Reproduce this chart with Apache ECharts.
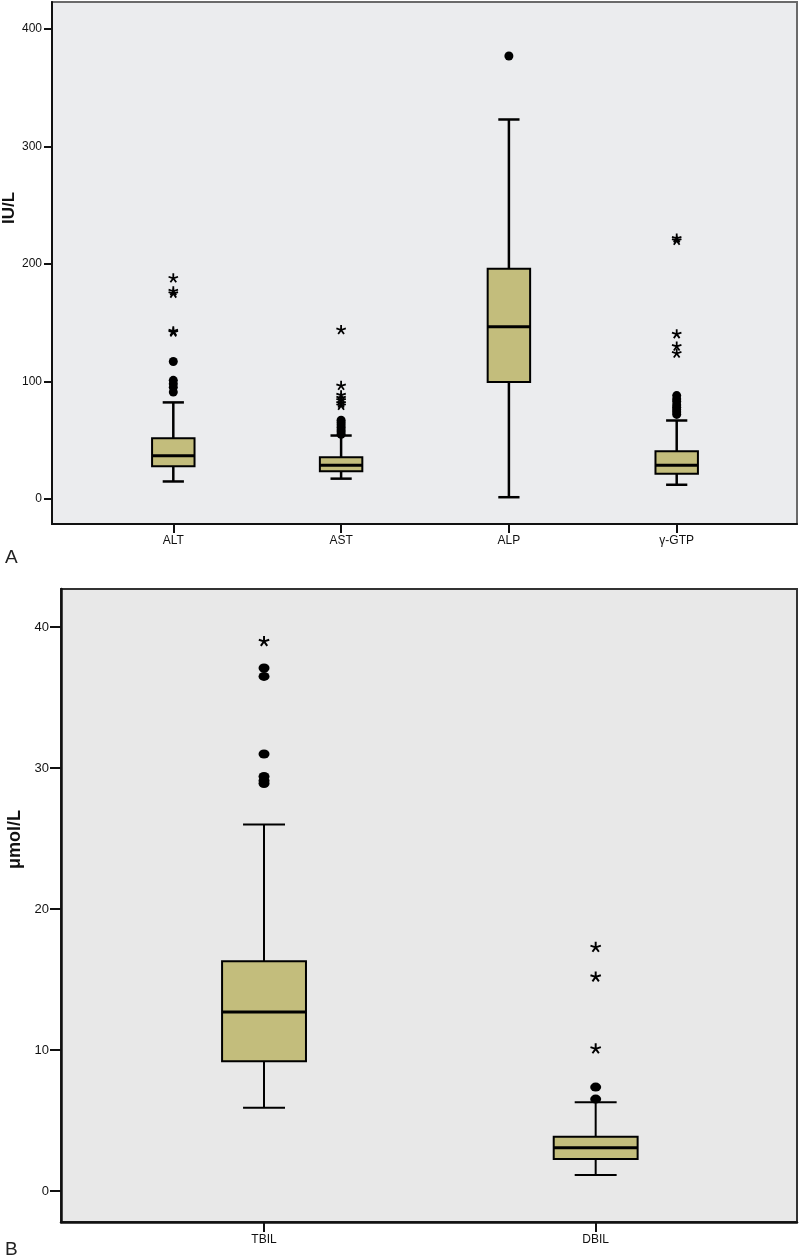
<!DOCTYPE html>
<html><head><meta charset="utf-8">
<script src="https://cdn.jsdelivr.net/npm/echarts@6/dist/echarts.min.js"></script>
<style>html,body{margin:0;padding:0;background:#fff}#c{width:800px;height:1256px}</style>
</head><body><div id="c"></div>
<script>
// ---- Panel A data (IU/L) ----
const catsA = ['ALT', 'AST', 'ALP', 'γ-GTP'];
// [lower whisker, Q1, median, Q3, upper whisker]
const boxA = [
  [14.9, 27.9, 36.7, 51.6, 82.2],
  [17.3, 23.7, 28.8, 35.5, 54.0],
  [1.5, 99.5, 146.6, 196.0, 323.0],
  [12.1, 21.5, 28.8, 40.7, 66.8]
];
const circlesA = [
  [117, 101, 98, 95, 91],
  [67, 65, 63, 61, 59, 57, 55],
  [377],
  [88, 85, 83, 80, 78, 76, 74, 72]
];
const starsA = [
  [188, 177, 175, 143, 142],
  [144, 96.5, 88.5, 86, 84, 81.5, 79.5],
  [],
  [222, 220, 140.5, 130, 124]
];
const yTicksA = [0, 100, 200, 300, 400];

// ---- Panel B data (μmol/L) ----
const catsB = ['TBIL', 'DBIL'];
const boxB = [
  [5.9, 9.2, 12.7, 16.3, 26.0],
  [1.13, 2.27, 3.06, 3.84, 6.3]
];
const circlesB = [
  [37.1, 36.5, 31.0, 29.4, 29.1, 28.9],
  [7.37, 6.52]
];
const starsB = [
  [39.0],
  [17.3, 15.2, 10.1]
];
const yTicksB = [0, 10, 20, 30, 40];

// ---- helpers ----
function flatten(groups) {
  const out = [];
  groups.forEach((g, i) => g.forEach(v => out.push([i, v])));
  return out;
}
function boxData(b) { return b.map((r, i) => [i].concat(r)); }
function asteriskPath(arms, hw) {
  let d = '';
  for (let k = 0; k < arms; k++) {
    const a = (-90 + 360 / arms * k) * Math.PI / 180;
    const dx = Math.cos(a), dy = Math.sin(a), nx = -dy, ny = dx;
    const pts = [[nx * hw, ny * hw], [dx + nx * hw, dy + ny * hw], [dx - nx * hw, dy - ny * hw], [-nx * hw, -ny * hw]];
    d += 'M' + pts.map(p => ((p[0] + 1) * 50).toFixed(2) + ' ' + ((p[1] + 1) * 50).toFixed(2)).join('L') + 'Z';
  }
  return 'path://' + d;
}
const STAR = asteriskPath(5, 0.18);
const BOXFILL = '#c3bd7c';

function makeRender(lw, mw) {
  return function (params, api) {
    const x = api.value(0);
    const lo = api.coord([x, api.value(1)]);
    const q1 = api.coord([x, api.value(2)]);
    const md = api.coord([x, api.value(3)]);
    const q3 = api.coord([x, api.value(4)]);
    const hi = api.coord([x, api.value(5)]);
    const band = api.size([1, 0])[0];
    const w = band * 0.253;
    const cx = lo[0];
    const cap = w / 4;
    const ls = { stroke: '#000', lineWidth: lw };
    return {
      type: 'group',
      children: [
        { type: 'line', shape: { x1: cx, y1: hi[1], x2: cx, y2: q3[1] }, style: ls },
        { type: 'line', shape: { x1: cx, y1: q1[1], x2: cx, y2: lo[1] }, style: ls },
        { type: 'line', shape: { x1: cx - cap, y1: hi[1], x2: cx + cap, y2: hi[1] }, style: ls },
        { type: 'line', shape: { x1: cx - cap, y1: lo[1], x2: cx + cap, y2: lo[1] }, style: ls },
        { type: 'rect', shape: { x: cx - w / 2, y: q3[1], width: w, height: q1[1] - q3[1] },
          style: { fill: BOXFILL, stroke: '#000', lineWidth: 2 } },
        { type: 'line', shape: { x1: cx - w / 2, y1: md[1], x2: cx + w / 2, y2: md[1] },
          style: { stroke: '#000', lineWidth: mw } }
      ]
    };
  };
}

const font = 'Liberation Sans, Arial, sans-serif';
const chart = echarts.init(document.getElementById('c'), null, { renderer: 'canvas' });

const gridA = { top: 2, height: 522 };
const gridB = { top: 589, height: 633 };
const yRangeA = { min: -21.3, max: 423 };
const yRangeB = { min: -2.2, max: 42.7 };

chart.setOption({
  animation: false,
  backgroundColor: '#fff',
  title: [
    { text: 'A', left: 0, top: 543, textStyle: { fontFamily: font, fontSize: 19, fontWeight: 'normal', color: '#222' } },
    { text: 'B', left: 0, top: 1235, textStyle: { fontFamily: font, fontSize: 19, fontWeight: 'normal', color: '#222' } }
  ],
  grid: [
    { left: 52, right: 3, top: gridA.top, height: gridA.height, show: true, backgroundColor: '#ebecee', borderColor: '#6a6a6a', borderWidth: 2, outerBoundsMode: 'none', containLabel: false },
    { left: 89.4, right: 800 - 760.6, top: gridA.top, height: gridA.height, outerBoundsMode: 'none', containLabel: false },
    { left: 61, right: 3, top: gridB.top, height: gridB.height, show: true, backgroundColor: '#e8e8e8', borderColor: '#333', borderWidth: 2, outerBoundsMode: 'none', containLabel: false },
    { left: 98.2, right: 800 - 761.5, top: gridB.top, height: gridB.height, outerBoundsMode: 'none', containLabel: false }
  ],
  xAxis: [
    { gridIndex: 0, type: 'value', min: 0, max: 1, position: 'bottom',
      axisLine: { show: true, onZero: false, lineStyle: { color: '#111', width: 2 } },
      axisTick: { show: false }, axisLabel: { show: false }, splitLine: { show: false } },
    { gridIndex: 1, type: 'category', data: catsA, position: 'bottom', axisLine: { show: false, onZero: false },
      axisTick: { show: true, alignWithLabel: true, length: 9, lineStyle: { color: '#111', width: 2 } },
      axisLabel: { margin: 11, fontFamily: font, fontSize: 12, color: '#111' }, splitLine: { show: false } },
    { gridIndex: 2, type: 'value', min: 0, max: 1, position: 'bottom',
      axisLine: { show: true, onZero: false, lineStyle: { color: '#111', width: 2.5 } },
      axisTick: { show: false }, axisLabel: { show: false }, splitLine: { show: false } },
    { gridIndex: 3, type: 'category', data: catsB, position: 'bottom', axisLine: { show: false, onZero: false },
      axisTick: { show: true, alignWithLabel: true, length: 10, lineStyle: { color: '#111', width: 2 } },
      axisLabel: { margin: 12, fontFamily: font, fontSize: 12, color: '#111' }, splitLine: { show: false } }
  ],
  yAxis: [
    { gridIndex: 0, type: 'value', min: yRangeA.min, max: yRangeA.max, position: 'left',
      name: 'IU/L', nameLocation: 'middle', nameGap: 34, nameRotate: 90, nameMoveOverlap: false,
      nameTextStyle: { fontFamily: font, fontSize: 17, fontWeight: 'bold', color: '#111', padding: [0, 0, 0, 110] },
      axisLine: { show: true, onZero: false, lineStyle: { color: '#111', width: 2 } },
      axisTick: { show: true, length: 8, customValues: yTicksA, lineStyle: { color: '#111', width: 2 } },
      axisLabel: { margin: 10, customValues: yTicksA, fontFamily: font, fontSize: 12, color: '#111' },
      splitLine: { show: false } },
    { gridIndex: 1, type: 'value', min: yRangeA.min, max: yRangeA.max, show: false, splitLine: { show: false } },
    { gridIndex: 2, type: 'value', min: yRangeB.min, max: yRangeB.max, position: 'left',
      name: 'μmol/L', nameLocation: 'middle', nameGap: 37, nameRotate: 90, nameMoveOverlap: false,
      nameTextStyle: { fontFamily: font, fontSize: 18, fontWeight: 'bold', color: '#111', padding: [0, 0, 0, 132] },
      axisLine: { show: true, onZero: false, lineStyle: { color: '#111', width: 2.5 } },
      axisTick: { show: true, length: 11, customValues: yTicksB, lineStyle: { color: '#111', width: 2 } },
      axisLabel: { margin: 12, customValues: yTicksB, fontFamily: font, fontSize: 13, color: '#111' },
      splitLine: { show: false } },
    { gridIndex: 3, type: 'value', min: yRangeB.min, max: yRangeB.max, show: false, splitLine: { show: false } }
  ],
  series: [
    { type: 'custom', xAxisIndex: 1, yAxisIndex: 1, renderItem: makeRender(2.5, 3),
      encode: { x: 0, y: [1, 2, 3, 4, 5] }, data: boxData(boxA), z: 2 },
    { type: 'scatter', xAxisIndex: 1, yAxisIndex: 1, data: flatten(circlesA), symbol: 'circle', symbolSize: 9,
      itemStyle: { color: '#000', opacity: 1 }, z: 3 },
    { type: 'scatter', xAxisIndex: 1, yAxisIndex: 1, data: flatten(starsA), symbol: STAR, symbolKeepAspect: true, symbolSize: 10,
      itemStyle: { color: '#000', opacity: 1 }, z: 3 },
    { type: 'custom', xAxisIndex: 3, yAxisIndex: 3, renderItem: makeRender(2, 3),
      encode: { x: 0, y: [1, 2, 3, 4, 5] }, data: boxData(boxB), z: 2 },
    { type: 'scatter', xAxisIndex: 3, yAxisIndex: 3, data: flatten(circlesB), symbol: 'circle', symbolSize: [11, 9],
      itemStyle: { color: '#000', opacity: 1 }, z: 3 },
    { type: 'scatter', xAxisIndex: 3, yAxisIndex: 3, data: flatten(starsB), symbol: STAR, symbolKeepAspect: true, symbolSize: 11,
      itemStyle: { color: '#000', opacity: 1 }, z: 3 }
  ]
});
</script></body></html>
